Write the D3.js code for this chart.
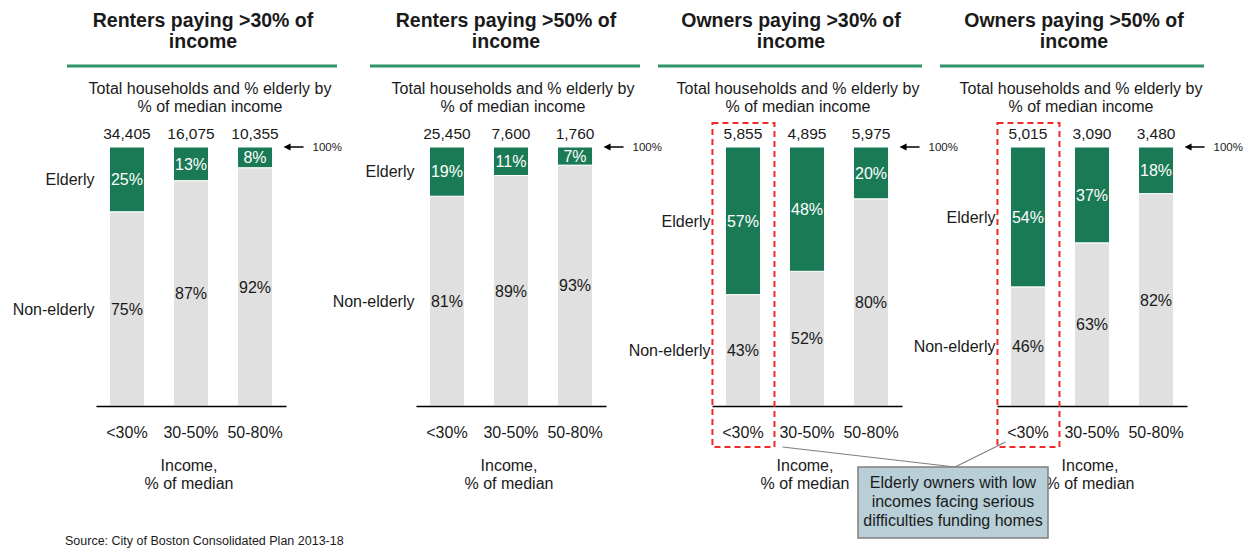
<!DOCTYPE html>
<html>
<head>
<meta charset="utf-8">
<script src="https://cdn.jsdelivr.net/npm/d3@7"></script>
<style>
  html, body { margin: 0; padding: 0; background: #fff; }
  svg { display: block; }
  text { font-family: "Liberation Sans", Arial, Helvetica, sans-serif; fill: #1a1a1a; }
</style>
</head>
<body>
<svg id="chart" width="1254" height="548"></svg>
<script>
// ---------- DATA ----------
const panelTitles = [
  ["Renters paying >30% of", "income"],
  ["Renters paying >50% of", "income"],
  ["Owners paying >30% of", "income"],
  ["Owners paying >50% of", "income"]
];
const subtitleLines = ["Total households and % elderly by", "% of median income"];
const categories = ["<30%", "30-50%", "50-80%"];
const totals = [
  ["34,405", "16,075", "10,355"],
  ["25,450", "7,600", "1,760"],
  ["5,855", "4,895", "5,975"],
  ["5,015", "3,090", "3,480"]
];
const elderlyPct = [
  [25, 13, 8],
  [19, 11, 7],
  [57, 48, 20],
  [54, 37, 18]
];
const nonElderlyPct = [
  [75, 87, 92],
  [81, 89, 93],
  [43, 52, 80],
  [46, 63, 82]
];
const seriesNames = ["Elderly", "Non-elderly"];
const xAxisTitle = ["Income,", "% of median"];
const topMarker = "100%";
const highlightPanels = [2, 3];   // panels where the <30% bar is boxed
const calloutLines = ["Elderly owners with low", "incomes facing serious", "difficulties funding homes"];
const sourceText = "Source: City of Boston Consolidated Plan 2013-18";

// ---------- LAYOUT ----------
const svg = d3.select("#chart");
const GREEN = "#1b7a56", GREY = "#e0e0e0", RULE = "#2f9468", RED = "#ee2a2a";
const axisX0 = [96, 416, 712, 997];
const axisW = 190;
const headCx = [203, 506, 791, 1074];
const ruleX = [[67, 337], [370, 640], [658, 922], [940, 1204]];
const y = d3.scaleLinear().domain([0, 100]).range([406, 147]);

const barCenters = [];

panelTitles.forEach((title, p) => {
  const g = svg.append("g");
  const x = d3.scaleBand().domain(categories)
    .range([axisX0[p], axisX0[p] + axisW])
    .paddingInner(0.453).paddingOuter(0.21);

  // Title
  const tt = g.append("text").attr("x", headCx[p]).attr("text-anchor", "middle")
    .style("font-weight", "bold").style("font-size", "19.5px");
  title.forEach((line, i) => tt.append("tspan").attr("x", headCx[p]).attr("y", 27 + i * 21).text(line));

  // Rule
  g.append("line").attr("x1", ruleX[p][0]).attr("x2", ruleX[p][1])
    .attr("y1", 66).attr("y2", 66).attr("stroke", RULE).attr("stroke-width", 3);

  // Subtitle
  const st = g.append("text").attr("text-anchor", "middle").style("font-size", "16px");
  subtitleLines.forEach((line, i) => st.append("tspan").attr("x", headCx[p] + 7).attr("y", 94 + i * 18).text(line));

  // Stacked data
  const rows = categories.map((c, i) => ({ cat: c, nonElderly: nonElderlyPct[p][i], elderly: elderlyPct[p][i], total: totals[p][i] }));
  const stack = d3.stack().keys(["nonElderly", "elderly"])(rows);

  stack.forEach(layer => {
    g.selectAll(null).data(layer).enter().append("rect")
      .attr("x", d => x(d.data.cat))
      .attr("width", x.bandwidth())
      .attr("y", d => y(d[1]))
      .attr("height", d => y(d[0]) - y(d[1]))
      .attr("fill", layer.key === "elderly" ? GREEN : GREY)
      .attr("stroke", "#fff").attr("stroke-width", 1);
    g.selectAll(null).data(layer).enter().append("text")
      .attr("x", d => x(d.data.cat) + x.bandwidth() / 2)
      .attr("y", d => (y(d[0]) + y(d[1])) / 2)
      .attr("dy", "0.36em")
      .attr("text-anchor", "middle")
      .style("font-size", "16px")
      .style("fill", layer.key === "elderly" ? "#ffffff" : "#1a1a1a")
      .text(d => d.data[layer.key] + "%");
  });

  // Totals above bars
  g.selectAll(null).data(rows).enter().append("text")
    .attr("x", d => x(d.cat) + x.bandwidth() / 2).attr("y", 139)
    .attr("text-anchor", "middle").style("font-size", "15.5px")
    .text(d => d.total);

  // Series labels next to first bar
  const first = stack.map(layer => layer[0]);
  [first[1], first[0]].forEach((d, i) => {
    g.append("text")
      .attr("x", x(categories[0]) - 15)
      .attr("y", (y(d[0]) + y(d[1])) / 2).attr("dy", "0.36em")
      .attr("text-anchor", "end").style("font-size", "16px")
      .text(seriesNames[i]);
  });

  // Axis
  const axis = d3.axisBottom(x).tickSize(0).tickPadding(0);
  const ag = g.append("g").attr("transform", `translate(0,${y(0)})`).call(axis);
  ag.select(".domain").attr("stroke", "#000").attr("stroke-width", 1.5);
  ag.selectAll(".tick text").attr("y", 32).attr("dy", 0)
    .style("font-size", "16px").style("font-family", "'Liberation Sans', Arial, sans-serif").attr("fill", "#1a1a1a");

  // Axis title
  const axCx = axisX0[p] + axisW / 2;
  const at = g.append("text").attr("text-anchor", "middle").style("font-size", "16px");
  xAxisTitle.forEach((line, i) => at.append("tspan").attr("x", axCx - 2).attr("y", 471 + i * 18).text(line));

  // 100% marker (left-pointing arrow)
  const lastRight = x(categories[2]) + x.bandwidth();
  const ay = y(100), hx = lastRight + 11;
  g.append("line")
    .attr("x1", hx + 4).attr("x2", hx + 20)
    .attr("y1", ay).attr("y2", ay)
    .attr("stroke", "#000").attr("stroke-width", 1.5);
  g.append("path")
    .attr("d", `M${hx},${ay} L${hx + 7},${ay - 3.5} L${hx + 7},${ay + 3.5} Z`)
    .attr("fill", "#000");
  g.append("text").attr("x", lastRight + 40).attr("y", ay).attr("dy", "0.36em")
    .style("font-size", "11.5px").text(topMarker);

  barCenters.push(x);

  // Highlight box
  if (highlightPanels.includes(p)) {
    g.append("rect")
      .attr("x", x(categories[0]) - 13).attr("y", 123)
      .attr("width", x.bandwidth() + 27).attr("height", 324)
      .attr("fill", "none").attr("stroke", RED).attr("stroke-width", 2)
      .attr("stroke-dasharray", "6,4");
  }
});

// Callout leader lines
const cal = svg.append("g");
const box = { x: 858, y: 467, w: 190, h: 71 };
const anchorPt = [955, 467];
const xa = barCenters[2], xb = barCenters[3];
cal.append("line").attr("x1", anchorPt[0]).attr("y1", anchorPt[1])
  .attr("x2", xa(categories[0]) + xa.bandwidth() + 22).attr("y2", 447)
  .attr("stroke", "#7f7f7f").attr("stroke-width", 1.2);
cal.append("line").attr("x1", anchorPt[0]).attr("y1", anchorPt[1])
  .attr("x2", xb(categories[0]) - 5).attr("y2", 442)
  .attr("stroke", "#7f7f7f").attr("stroke-width", 1.2);
cal.append("rect").attr("x", box.x).attr("y", box.y).attr("width", box.w).attr("height", box.h)
  .attr("fill", "#b8cfd8").attr("stroke", "#7f7f7f").attr("stroke-width", 1.5);
const ct = cal.append("text").attr("text-anchor", "middle").style("font-size", "16px");
calloutLines.forEach((line, i) => ct.append("tspan").attr("x", box.x + box.w / 2).attr("y", 488 + i * 19).text(line));

// Source
svg.append("text").attr("x", 65).attr("y", 545).style("font-size", "12.5px").text(sourceText);
</script>
</body>
</html>
